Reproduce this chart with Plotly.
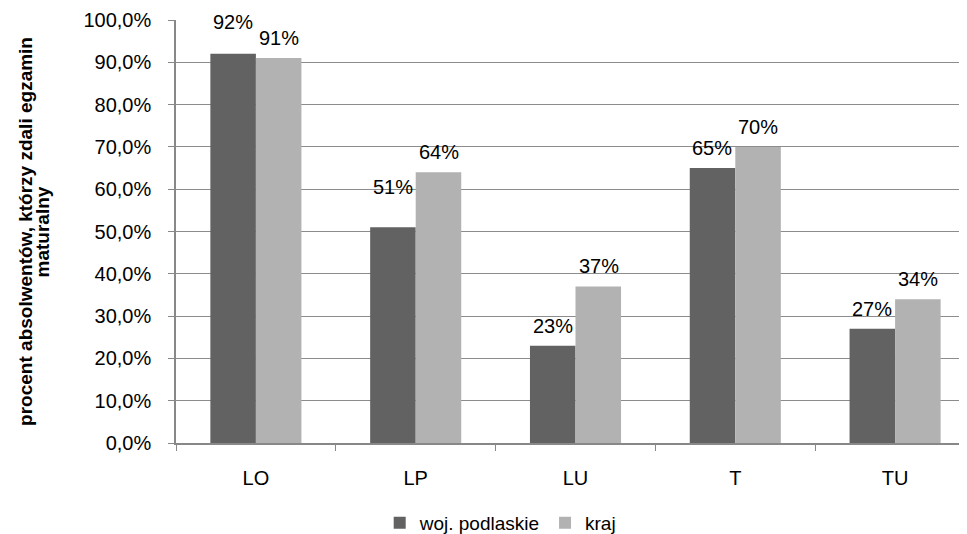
import plotly.graph_objects as go

categories = ["LO", "LP", "LU", "T", "TU"]
woj_podlaskie = [0.92, 0.51, 0.23, 0.65, 0.27]
kraj = [0.91, 0.64, 0.37, 0.70, 0.34]
series_names = ["woj. podlaskie", "kraj"]
y_title_lines = ["procent absolwentów, którzy zdali egzamin", "maturalny"]

# extra label lift (px) for labels moved manually in the original
lift_woj = [12, 20, 0, 0, 0]
lift_kraj = [0, 0, 0, 0, 0]

DARK = "#626262"
LIGHT = "#b2b2b2"
FONT = "Liberation Sans, Arial, sans-serif"
FS = 20

fig = go.Figure()
fig.add_trace(go.Bar(x=categories, y=woj_podlaskie, name=series_names[0],
                     marker=dict(color=DARK, line=dict(width=0))))
fig.add_trace(go.Bar(x=categories, y=kraj, name=series_names[1],
                     marker=dict(color=LIGHT, line=dict(width=0))))

anns = []
for i, c in enumerate(categories):
    for vals, lifts, xs in ((woj_podlaskie, lift_woj, -23), (kraj, lift_kraj, 23)):
        anns.append(dict(x=c, y=vals[i], xref="x", yref="y", text=f"{round(vals[i]*100)}%",
                         showarrow=False, xshift=xs, yshift=7 + lifts[i], yanchor="bottom",
                         font=dict(family=FONT, size=FS, color="#000")))

for line, xpos in zip(y_title_lines, (-0.1885, -0.1665)):
    anns.append(dict(text=f"<b>{line}</b>", xref="paper", yref="paper", x=xpos, y=0.5,
                     xanchor="center", yanchor="middle", textangle=-90, showarrow=False,
                     font=dict(family=FONT, size=19, color="#000")))

fig.update_layout(
    width=967, height=534,
    margin=dict(l=168, r=0, t=12, b=99, autoexpand=False),
    paper_bgcolor="white", plot_bgcolor="white",
    separators=",.",
    barmode="group", bargap=0.43, bargroupgap=0,
    font=dict(family=FONT, size=FS, color="#000"),
    showlegend=True,
    legend=dict(orientation="h", x=0.509, xref="container", xanchor="center",
                y=0.036, yref="container", yanchor="middle", bgcolor="rgba(0,0,0,0)",
                font=dict(family=FONT, size=19), itemwidth=30, traceorder="normal"),
    annotations=anns,
)
fig.update_xaxes(range=[-0.5, 4.5], tickson="boundaries", ticks="outside", ticklen=6,
                 tickcolor="#888", showline=True, linecolor="#888", linewidth=1.5,
                 showgrid=False, tickfont=dict(size=FS), ticklabelstandoff=16, automargin=False)
fig.update_yaxes(range=[0, 1.0], dtick=0.1, tickformat=".1%", ticks="outside", ticklen=6,
                 tickcolor="#888", showline=True, linecolor="#888", linewidth=1.5,
                 showgrid=True, gridcolor="#8c8c8c", gridwidth=1.2, zeroline=False,
                 tickfont=dict(size=FS), ticklabelstandoff=13, automargin=False)

fig.write_html("out.html")
